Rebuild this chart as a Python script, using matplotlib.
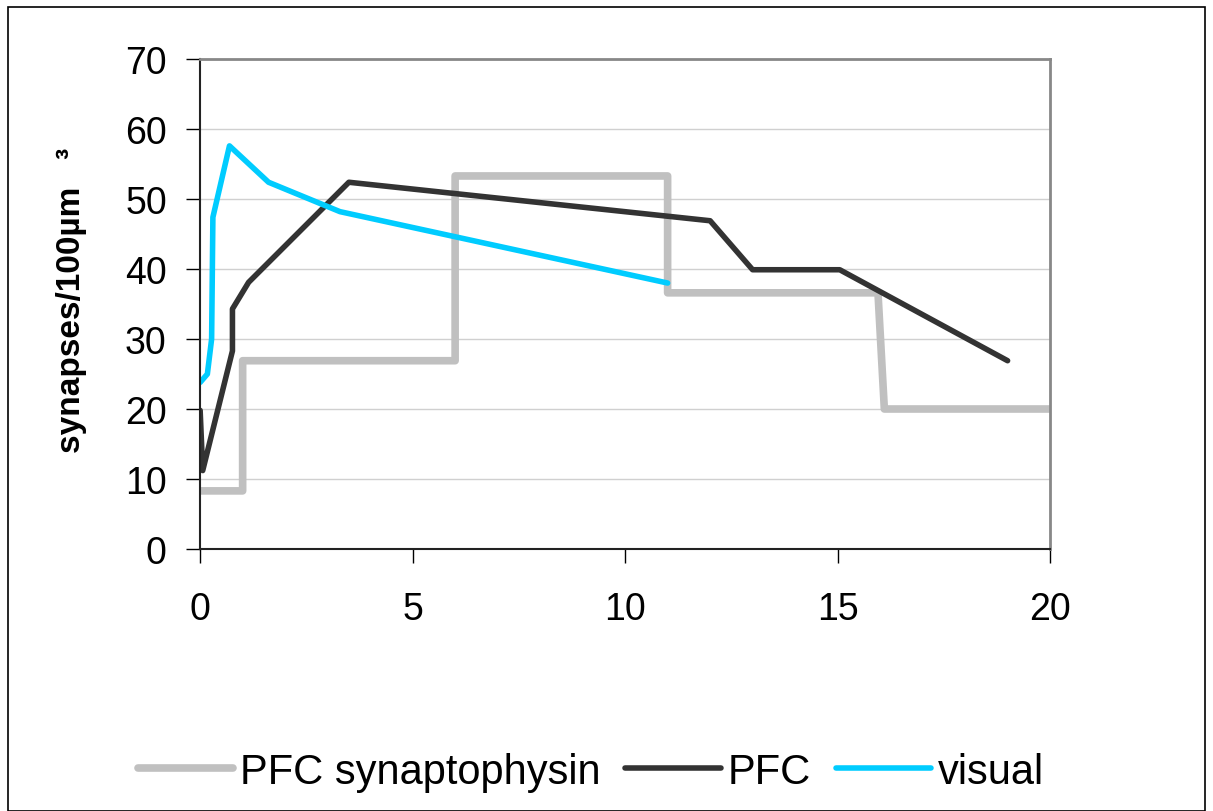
import matplotlib.pyplot as plt
from matplotlib.patches import Rectangle

plt.rcParams['font.family'] = ['Liberation Sans', 'DejaVu Sans']

# ==========================
# Data
# ==========================

syn_x = [0, 1, 1, 6, 6, 11, 11, 15.95, 16.1, 20]
syn_y = [8.3, 8.3, 26.9, 26.9, 53.3, 53.3, 36.6, 36.6, 20, 20]

pfc_x = [0, 0.06, 0.76, 0.76, 1.14, 3.5, 12, 13, 15.05, 19]
pfc_y = [19.8, 11.2, 28.3, 34.3, 38.1, 52.4, 46.9, 39.9, 39.9, 26.9]

vis_x = [0, 0.17, 0.27, 0.3, 0.69, 1.61, 3.29, 11]
vis_y = [23.8, 25, 30, 47.4, 57.6, 52.4, 48.2, 38.0]

# ==========================
# Plot
# ==========================

fig = plt.figure(figsize=(12.13, 8.12), dpi=100)
ax = fig.add_axes([0.165, 0.3227, 0.7007, 0.6033])

kw = dict(solid_joinstyle="round", solid_capstyle="round")
ax.plot(syn_x, syn_y, color="#C0C0C0", lw=5.5, label="PFC synaptophysin", **kw)
ax.plot(pfc_x, pfc_y, color="#333333", lw=4, label="PFC", **kw)
ax.plot(vis_x, vis_y, color="#00CCFF", lw=4, label="visual", **kw)

ax.set_xlim(0, 20)
ax.set_ylim(0, 70)
ax.set_xticks([0, 5, 10, 15, 20])
ax.set_yticks(range(0, 80, 10))
ax.tick_params(labelsize=27, length=10, width=1, direction="out")
ax.tick_params(axis="x", pad=20)
ax.tick_params(axis="y", pad=14)
ax.yaxis.grid(True, color="#D0D0D0", lw=1)
ax.set_axisbelow(True)

for s in ["top", "right"]:
    ax.spines[s].set_color("#888888")
    ax.spines[s].set_linewidth(2)
for s in ["left", "bottom"]:
    ax.spines[s].set_color("#222222")
    ax.spines[s].set_linewidth(1.5)

fig.text(72 / 1213, 1 - 300 / 812, "synapses/100µm   ³", fontsize=24,
         fontweight="bold", rotation=90, ha="center", va="center")

fig.legend(loc="center", bbox_to_anchor=(0.487, 0.048), ncol=3, frameon=False,
           fontsize=30, handlelength=2.3, handletextpad=0.15, columnspacing=0.6)

fig.patches.append(Rectangle((0.007, 0.0), 0.986, 0.99, transform=fig.transFigure,
                             fill=False, edgecolor="black", lw=1.2))

plt.savefig("out.png", dpi=100)
